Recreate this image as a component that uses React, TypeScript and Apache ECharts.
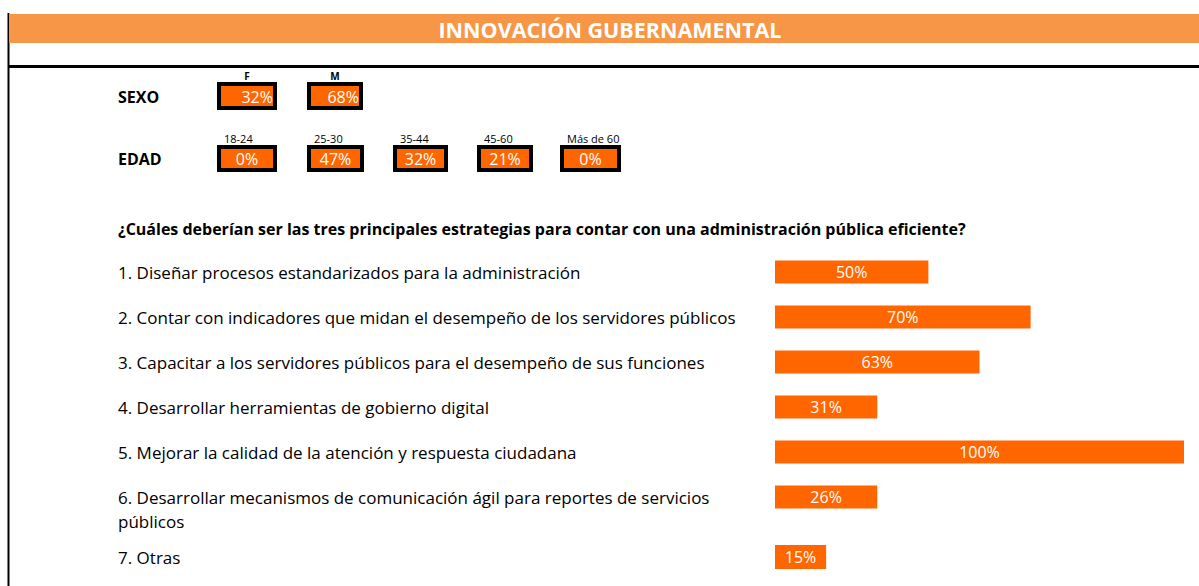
import React, { useEffect, useRef } from "react";
import * as echarts from "echarts";

const TITLE = "INNOVACIÓN GUBERNAMENTAL";
const QUESTION = "¿Cuáles deberían ser las tres principales estrategias para contar con una administración pública eficiente?";

const sexLabels = ["F", "M"];
const sexValues = [32, 68];
const ageLabels = ["18-24", "25-30", "35-44", "45-60", "Más de 60"];
const ageValues = [0, 47, 32, 21, 0];

const strategies = [
  "1. Diseñar procesos estandarizados para la administración",
  "2. Contar con indicadores que midan el desempeño de los servidores públicos",
  "3. Capacitar a los servidores públicos para el desempeño de sus funciones",
  "4. Desarrollar herramientas de gobierno digital",
  "5. Mejorar la calidad de la atención y respuesta ciudadana",
  "6. Desarrollar mecanismos de comunicación ágil para reportes de servicios\npúblicos",
  "7. Otras",
];
const strategyPercents = [50, 70, 63, 31, 100, 26, 15];
// filled cells (bar length in the sheet; 8 cells = full)
const strategyCells = [3, 5, 4, 2, 8, 2, 1];

const FONT = "'Open Sans', Lato, sans-serif";
const ORANGE = "#FF6600";

export default function App() {
  const ref = useRef<HTMLDivElement>(null);
  useEffect(() => {
    if (!ref.current) return;
    const chart = echarts.init(ref.current, null, { renderer: "svg" });

    const sexBoxX = [219, 309];
    const sexBoxW = [56, 52];
    const ageBoxX = [219, 309, 395, 479, 562];
    const ageBoxW = [56, 53, 51, 52, 57];

    const graphics: any[] = [
      { type: "line", shape: { x1: 8.5, y1: 13, x2: 8.5, y2: 586 }, style: { stroke: "#000", lineWidth: 2 } },
      { type: "rect", shape: { x: 9, y: 14, width: 1190, height: 29 }, style: { fill: "#F79646" } },
      {
        type: "text", x: 610, y: 29,
        style: { text: TITLE, fill: "#fff", font: `bold 21.5px ${FONT}`, align: "center", verticalAlign: "middle" },
      },
      { type: "rect", shape: { x: 9, y: 65, width: 1190, height: 3 }, style: { fill: "#000" } },
      { type: "text", x: 118, y: 97, style: { text: "SEXO", fill: "#000", font: `bold 16px ${FONT}`, verticalAlign: "middle" } },
      { type: "text", x: 118, y: 159, style: { text: "EDAD", fill: "#000", font: `bold 16px ${FONT}`, verticalAlign: "middle" } },
      { type: "text", x: 118, y: 229, style: { text: QUESTION, fill: "#000", font: `bold 16px ${FONT}`, verticalAlign: "middle" } },
    ];

    sexLabels.forEach((lab, i) => {
      const x = sexBoxX[i];
      const w = sexBoxW[i];
      graphics.push({
        type: "text", x: x + w / 2, y: 76,
        style: { text: lab, fill: "#000", font: `bold 10px ${FONT}`, align: "center", verticalAlign: "middle" },
      });
      graphics.push({
        type: "rect", shape: { x, y: 84, width: w, height: 24 },
        style: { fill: ORANGE, stroke: "#000", lineWidth: 4 },
      });
      graphics.push({
        type: "text", x: x + w - 2, y: 97,
        style: { text: sexValues[i] + "%", fill: "#fff", font: `16px ${FONT}`, align: "right", verticalAlign: "middle" },
      });
    });

    ageLabels.forEach((lab, i) => {
      const x = ageBoxX[i];
      const w = ageBoxW[i];
      graphics.push({
        type: "text", x: x + 5, y: 138,
        style: { text: lab, fill: "#000", font: `11px ${FONT}`, align: "left", verticalAlign: "middle" },
      });
      graphics.push({
        type: "rect", shape: { x, y: 147, width: w, height: 23 },
        style: { fill: ORANGE, stroke: "#000", lineWidth: 4 },
      });
      graphics.push({
        type: "text", x: x + w / 2, y: 159,
        style: { text: ageValues[i] + "%", fill: "#fff", font: `16px ${FONT}`, align: "center", verticalAlign: "middle" },
      });
    });

    const firstCats = strategies.slice(0, 6);
    const lastCats = strategies.slice(6);

    const labelCfg = {
      show: true,
      position: "inside",
      color: "#fff",
      fontFamily: FONT,
      fontSize: 16,
    };
    const axisLabelCfg = {
      show: true,
      interval: 0,
      hideOverlap: false,
      align: "left",
      margin: 657,
      color: "#000",
      fontFamily: FONT,
      fontSize: 17,
      lineHeight: 24,
      // multi-line labels start on the bar's row and flow downward
      formatter: (v: string) => (v.includes("\n") ? "\n" + v : v),
    };

    chart.setOption({
      animation: false,
      graphic: graphics,
      grid: [
        { left: 775, top: 249.5, width: 409, height: 270, outerBoundsMode: "none", containLabel: false },
        { left: 775, top: 534.5, width: 409, height: 45, outerBoundsMode: "none", containLabel: false },
      ],
      xAxis: [
        { type: "value", gridIndex: 0, min: 0, max: 8, show: false },
        { type: "value", gridIndex: 1, min: 0, max: 8, show: false },
      ],
      yAxis: [
        {
          type: "category", gridIndex: 0, inverse: true, data: firstCats,
          axisLine: { show: false }, axisTick: { show: false }, splitLine: { show: false },
          axisLabel: axisLabelCfg,
        },
        {
          type: "category", gridIndex: 1, inverse: true, data: lastCats,
          axisLine: { show: false }, axisTick: { show: false }, splitLine: { show: false },
          axisLabel: axisLabelCfg,
        },
      ],
      series: [
        {
          type: "bar", xAxisIndex: 0, yAxisIndex: 0, barWidth: 23,
          data: strategyCells.slice(0, 6),
          itemStyle: { color: ORANGE },
          label: { ...labelCfg, formatter: (p: any) => strategyPercents[p.dataIndex] + "%" },
        },
        {
          type: "bar", xAxisIndex: 1, yAxisIndex: 1, barWidth: 24,
          data: strategyCells.slice(6),
          itemStyle: { color: ORANGE },
          label: { ...labelCfg, formatter: (p: any) => strategyPercents[6 + p.dataIndex] + "%" },
        },
      ],
    });
    return () => chart.dispose();
  }, []);

  return (
    <div
      ref={ref}
      style={{ position: "fixed", left: 0, top: 0, width: 1199, height: 586, background: "#fff" }}
    />
  );
}
